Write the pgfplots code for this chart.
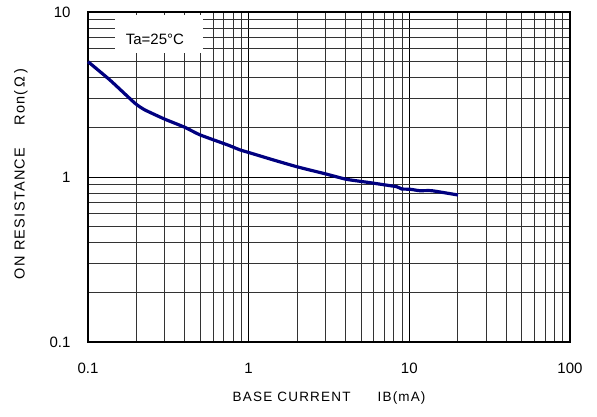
\documentclass[border=0pt]{standalone}
\usepackage{pgfplots}
\pgfplotsset{compat=1.18}
\usepackage{fontspec}
\setmainfont{Liberation Sans}
\newfontfamily\lblfont{Liberation Sans}[LetterSpace=9]
\definecolor{curve}{RGB}{0,0,128}
\begin{document}
\begin{tikzpicture}
\begin{loglogaxis}[
  scale only axis,
  width=482bp, height=330bp,
  xmin=0.1, xmax=100, ymin=0.1, ymax=10,
  xtick={0.1,1,10,100}, xticklabels={0.1,1,10,100},
  ytick={0.1,1,10}, yticklabels={0.1,1,10},
  /pgf/number format/assume math mode=true,
  grid=both,
  major grid style={black, line width=0.6bp},
  minor grid style={black!80, line width=0.6bp},
  major tick length=0pt, minor tick length=0pt,
  axis line style={black, line width=1.6bp},
  tick label style={font=\fontsize{15bp}{18bp}\selectfont},
  xticklabel style={anchor=north, yshift=-18bp},
  yticklabel style={anchor=east, xshift=-14bp},
  clip=false,
]
\addplot[curve, line width=3.2bp, smooth, tension=0.3] coordinates {
(0.1,5.0) (0.137,3.87) (0.196,2.80) (0.226,2.55) (0.301,2.24) (0.401,2.0)
(0.498,1.80) (0.746,1.56) (0.883,1.46) (1.02,1.40) (1.42,1.27) (1.99,1.155)
(3.06,1.04) (4.07,0.968) (5.69,0.924) (8.34,0.873) (8.96,0.846) (10.1,0.843)
(11.6,0.826) (13.8,0.826) (20.1,0.778)
};
\node[fill=white, minimum width=88bp, minimum height=38bp, inner sep=0pt] at (axis cs:0.277,7.36) {};
\node[font=\fontsize{15bp}{18bp}\selectfont, inner sep=0pt] at (axis cs:0.261,6.86) {Ta=25\textdegree C};
\node[font=\lblfont\fontsize{13.5bp}{16bp}\selectfont, anchor=center] at ([yshift=-56bp]axis description cs:0.5,0) {BASE CURRENT\hspace{27bp}IB(\hspace{1bp}mA\hspace{1bp})};
\node[font=\lblfont\fontsize{14.5bp}{17bp}\selectfont, anchor=center, rotate=90] at ([xshift=-67bp,yshift=3bp]axis description cs:0,0.5) {ON RESISTANCE\hspace{22bp}Ron(\hspace{3bp}Ω\hspace{3bp})};
\coordinate (sw) at (rel axis cs:0,0);
\coordinate (ne) at (rel axis cs:1,1);
\end{loglogaxis}
\pgfresetboundingbox
\path[use as bounding box] ([shift={(-88bp,-75bp)}]sw) rectangle ([shift={(27bp,12bp)}]ne);
\end{tikzpicture}
\end{document}
